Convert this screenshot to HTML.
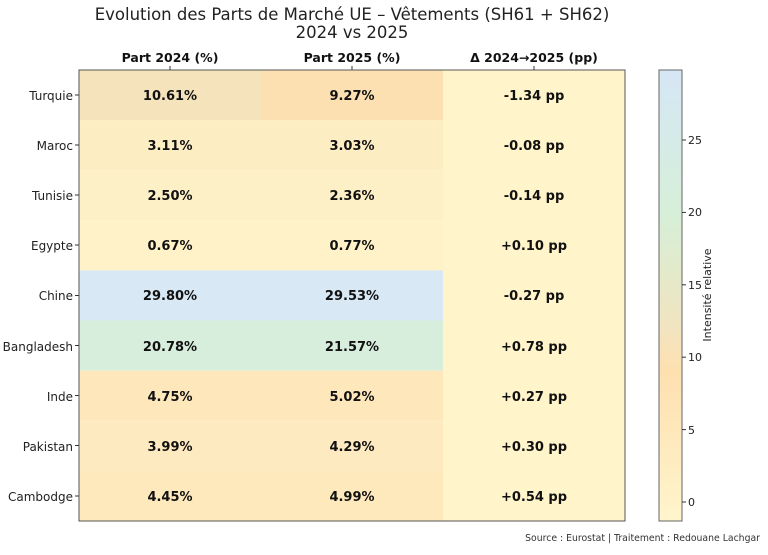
<!DOCTYPE html>
<html><head><meta charset="utf-8"><style>body{margin:0;background:#fff}</style></head><body>
<svg width="768" height="550" xmlns="http://www.w3.org/2000/svg" font-family="DejaVu Sans, Liberation Sans, sans-serif">
<defs><linearGradient id="cb" x1="0" y1="0" x2="0" y2="1">
<stop offset="0" stop-color="#d6e6f5"/><stop offset="0.155" stop-color="#d5ebe8"/>
<stop offset="0.316" stop-color="#d6efd8"/><stop offset="0.476" stop-color="#e6e8c8"/>
<stop offset="0.573" stop-color="#f2e4c0"/><stop offset="0.669" stop-color="#fee0b0"/>
<stop offset="0.797" stop-color="#fee8bb"/><stop offset="0.958" stop-color="#fff2c8"/>
<stop offset="1" stop-color="#fff5cc"/></linearGradient></defs>
<text x="352" y="20" font-size="16.5" text-anchor="middle" fill="#222">Evolution des Parts de Marché UE – Vêtements (SH61 + SH62)</text>
<text x="352" y="38" font-size="16.5" text-anchor="middle" fill="#222">2024 vs 2025</text>
<g font-size="12.5" font-weight="bold" text-anchor="middle" fill="#111">
<text x="170" y="62">Part 2024 (%)</text><text x="352" y="62">Part 2025 (%)</text><text x="534" y="62">Δ 2024→2025 (pp)</text></g>
<g stroke="#333"><line x1="170" y1="66" x2="170" y2="70"/><line x1="352" y1="66" x2="352" y2="70"/><line x1="534" y1="66" x2="534" y2="70"/></g>
<g>
<rect x="79" y="70" width="182" height="50.1" fill="#f5e3bb"/><rect x="261" y="70" width="182" height="50.1" fill="#fde0b1"/>
<rect x="79" y="120.1" width="364" height="50.1" fill="#fdedc3"/>
<rect x="79" y="170.2" width="364" height="50.1" fill="#fdefc6"/>
<rect x="79" y="220.3" width="364" height="50.1" fill="#fff2c8"/>
<rect x="79" y="270.4" width="364" height="50.1" fill="#d8e8f5"/>
<rect x="79" y="320.5" width="364" height="50.1" fill="#d8eedd"/>
<rect x="79" y="370.6" width="364" height="50.1" fill="#fee8bb"/>
<rect x="79" y="420.7" width="364" height="50.1" fill="#feeac0"/>
<rect x="79" y="470.8" width="364" height="50.2" fill="#fee9bd"/>
<rect x="443" y="70" width="182" height="451" fill="#fff4ca"/>
</g>
<rect x="79" y="70" width="546" height="451" fill="none" stroke="#555" stroke-width="1"/>
<g font-size="13" font-weight="bold" text-anchor="middle" fill="#111">
<text x="170" y="100">10.61%</text><text x="352" y="100">9.27%</text><text x="534" y="100">-1.34 pp</text>
<text x="170" y="150">3.11%</text><text x="352" y="150">3.03%</text><text x="534" y="150">-0.08 pp</text>
<text x="170" y="200">2.50%</text><text x="352" y="200">2.36%</text><text x="534" y="200">-0.14 pp</text>
<text x="170" y="250">0.67%</text><text x="352" y="250">0.77%</text><text x="534" y="250">+0.10 pp</text>
<text x="170" y="300">29.80%</text><text x="352" y="300">29.53%</text><text x="534" y="300">-0.27 pp</text>
<text x="170" y="351">20.78%</text><text x="352" y="351">21.57%</text><text x="534" y="351">+0.78 pp</text>
<text x="170" y="401">4.75%</text><text x="352" y="401">5.02%</text><text x="534" y="401">+0.27 pp</text>
<text x="170" y="451">3.99%</text><text x="352" y="451">4.29%</text><text x="534" y="451">+0.30 pp</text>
<text x="170" y="501">4.45%</text><text x="352" y="501">4.99%</text><text x="534" y="501">+0.54 pp</text>
</g>
<g font-size="12" text-anchor="end" fill="#222">
<text x="73" y="100">Turquie</text><text x="73" y="150">Maroc</text><text x="73" y="200">Tunisie</text>
<text x="73" y="250">Egypte</text><text x="73" y="300">Chine</text><text x="73" y="351">Bangladesh</text>
<text x="73" y="401">Inde</text><text x="73" y="451">Pakistan</text><text x="73" y="501">Cambodge</text></g>
<g stroke="#333"><line x1="75" y1="95" x2="79" y2="95"/><line x1="75" y1="145" x2="79" y2="145"/><line x1="75" y1="195" x2="79" y2="195"/><line x1="75" y1="245" x2="79" y2="245"/><line x1="75" y1="295.5" x2="79" y2="295.5"/><line x1="75" y1="345.5" x2="79" y2="345.5"/><line x1="75" y1="395.5" x2="79" y2="395.5"/><line x1="75" y1="445.5" x2="79" y2="445.5"/><line x1="75" y1="496" x2="79" y2="496"/></g>
<rect x="659" y="70" width="23" height="451" fill="url(#cb)" stroke="#666" stroke-width="1"/>
<g stroke="#333"><line x1="682" y1="140" x2="686" y2="140"/><line x1="682" y1="212.4" x2="686" y2="212.4"/><line x1="682" y1="284.8" x2="686" y2="284.8"/><line x1="682" y1="357.2" x2="686" y2="357.2"/><line x1="682" y1="429.6" x2="686" y2="429.6"/><line x1="682" y1="502" x2="686" y2="502"/></g>
<g font-size="11" fill="#222">
<text x="688" y="144">25</text><text x="688" y="216">20</text><text x="688" y="289">15</text><text x="688" y="361">10</text><text x="688" y="434">5</text><text x="688" y="506">0</text></g>
<text transform="translate(711,295) rotate(-90)" font-size="11" text-anchor="middle" fill="#222">Intensité relative</text>
<text x="760" y="541" font-size="9.3" text-anchor="end" fill="#333">Source : Eurostat | Traitement : Redouane Lachgar</text>
</svg>
</body></html>
